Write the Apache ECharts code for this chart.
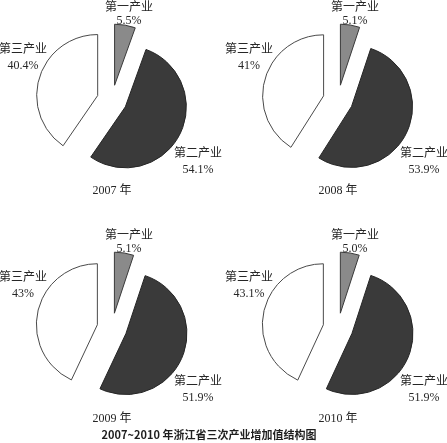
<!DOCTYPE html>
<html><head><meta charset="utf-8">
<script src="https://cdn.jsdelivr.net/npm/echarts@6/dist/echarts.min.js"></script>
<style>html,body{margin:0;padding:0;background:#fff}#c{width:447px;height:443px}</style>
</head><body><div id="c"></div>
<script>
const years = ['2007 年', '2008 年', '2009 年', '2010 年'];
const industries = ['第一产业', '第二产业', '第三产业'];
const v2007 = ['5.5', '54.1', '40.4'];
const v2008 = ['5.1', '53.9', '41'];
const v2009 = ['5.1', '51.9', '43'];
const v2010 = ['5.0', '51.9', '43.1'];
const chartTitle = '2007~2010 年浙江省三次产业增加值结构图';

const values = [v2007, v2008, v2009, v2010];
const centers = [[112, 100], [338, 100], [112, 328], [338, 328]];
const R = 61;
const fills = ['#8a8a8a', '#3a3a3a', '#ffffff'];
const borders = ['#3a3a3a', '#262626', '#4a4a4a'];
// label offsets relative to pie centre: [name line, value line]
const labelPos = [[[17, -92], [17, -79]], [[86, 54], [86, 70]], [[-89, -50], [-89, -34]]];
const serif = 'Liberation Serif, DejaVu Serif, Noto Sans CJK SC, serif';

function txt(x, y, text, extra) {
  return {
    type: 'text', x: x, y: y, silent: true,
    style: Object.assign({ text: text, fontSize: 12, fontFamily: serif, fill: '#262626', align: 'center', verticalAlign: 'middle' }, extra || {})
  };
}

const series = [];
const graphic = [];
values.forEach((vals, yi) => {
  const c = centers[yi];
  industries.forEach((name, k) => {
    series.push({
      type: 'pie',
      center: c,
      radius: [0, R],
      startAngle: 90,
      clockwise: true,
      selectedMode: 'multiple',
      selectedOffset: 15,
      silent: true,
      animation: false,
      label: { show: false },
      labelLine: { show: false },
      emphasis: { disabled: true },
      data: industries.map((n, j) => ({
        name: n,
        value: parseFloat(vals[j]),
        selected: j === k,
        itemStyle: j === k
          ? { color: fills[j], borderColor: borders[j], borderWidth: 1 }
          : { color: 'transparent', borderWidth: 0 },
        select: {
          itemStyle: j === k
            ? { color: fills[j], borderColor: borders[j], borderWidth: 1 }
            : { color: 'transparent', borderWidth: 0 }
        }
      }))
    });
    graphic.push(txt(c[0] + labelPos[k][0][0], c[1] + labelPos[k][0][1], name));
    graphic.push(txt(c[0] + labelPos[k][1][0], c[1] + labelPos[k][1][1], vals[k] + '%'));
  });
  graphic.push(txt(c[0], c[1] + 91, years[yi]));
});
graphic.push(txt(209, 435, chartTitle, { fontSize: 11, fontWeight: 'bold', fontFamily: 'Noto Sans CJK SC, DejaVu Sans, sans-serif', fill: '#1e1e1e' }));

const chart = echarts.init(document.getElementById('c'), null, { renderer: 'canvas' });
chart.setOption({ backgroundColor: '#fff', animation: false, series, graphic });
</script></body></html>
